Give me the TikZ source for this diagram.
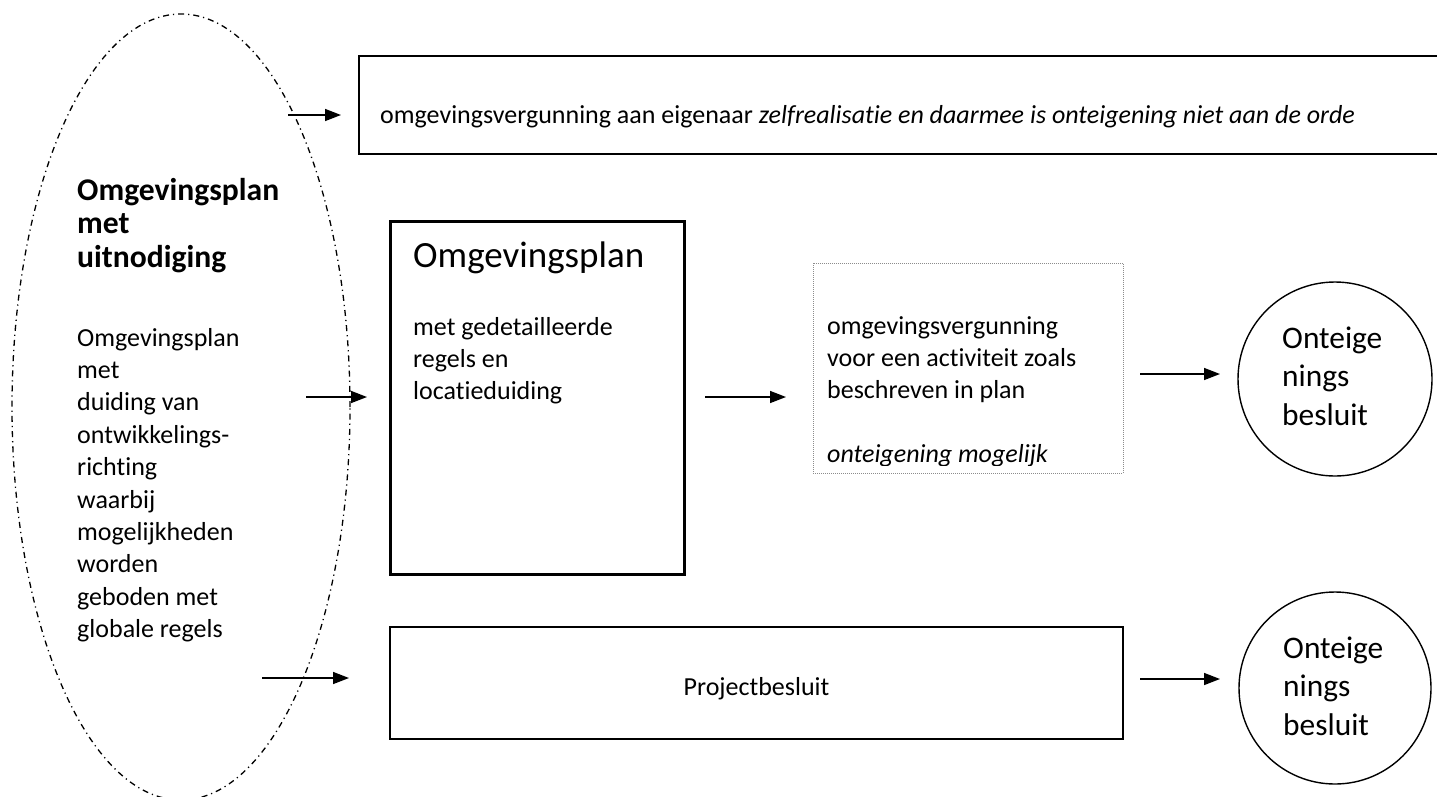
\documentclass[tikz,border=0pt]{standalone}
\usepackage{fontspec}
\setmainfont{Carlito}[Ligatures={NoCommon}]
\usetikzlibrary{shapes.geometric,arrows.meta}
\begin{document}
\begin{tikzpicture}[x=1pt,y=-1pt,
  box/.style={draw,rectangle,line width=1.4pt,inner sep=0pt},
  thickbox/.style={draw,rectangle,line width=3pt,inner sep=0pt},
  dotbox/.style={draw=black!45,rectangle,line width=0.8pt,dash pattern=on 1pt off 1pt,inner sep=0pt},
  oval/.style={draw,ellipse,line width=1.3pt,dash pattern=on 6pt off 4pt on 1.2pt off 4pt,inner sep=0pt},
  round/.style={draw,circle,line width=1.4pt,inner sep=0pt},
  arr/.style={line width=1.5pt,-{Triangle[length=16pt,width=12pt]}},
  txt/.style={anchor=base west,inner sep=0pt,font=\fontsize{26}{32.2}\selectfont},
  bigtxt/.style={anchor=base west,inner sep=0pt,font=\fontsize{31.4}{38.5}\selectfont},
]
\useasboundingbox (0,0) rectangle (1437,796);
\clip (0,0) rectangle (1437,796);

% shapes
\node[oval,minimum width=338pt,minimum height=786pt] (ov) at (181,407) {};
\node[box,minimum width=1086pt,minimum height=98pt] (top) at (902,105) {};
\node[thickbox,minimum width=294pt,minimum height=353pt] (mid) at (537,397.5) {};
\node[dotbox,minimum width=310pt,minimum height=210pt] (dot) at (968,368) {};
\node[box,minimum width=733pt,minimum height=112pt] (proj) at (756.5,683) {};
\node[round,minimum size=194pt] (c1) at (1335,379) {};
\node[round,minimum size=192pt] (c2) at (1335,688) {};

% texts
\node[txt] (ttop) at (380,123) {omgevingsvergunning aan eigenaar \textit{zelfrealisatie en daarmee is onteigening niet aan de orde}};
\node[anchor=base west,inner sep=0pt,font=\fontsize{31.6}{33.5}\selectfont\bfseries] (tov1) at (77,200)
  {\begin{tabular}[t]{@{}l@{}}Omgevingsplan\\ met\\ uitnodiging\end{tabular}};
\node[anchor=base west,inner sep=0pt,font=\fontsize{26}{32.4}\selectfont] (tov2) at (77,346)
  {\begin{tabular}[t]{@{}l@{}}Omgevingsplan\\ met\\ duiding van\\ ontwikkelings-\\ richting\\ waarbij\\ mogelijkheden\\ worden\\ geboden met\\ globale regels\end{tabular}};
\node[anchor=base west,inner sep=0pt,font=\fontsize{37}{45}\selectfont] (tmid1) at (413,267) {Omgevingsplan};
\node[txt] (tmid2) at (413,335)
  {\begin{tabular}[t]{@{}l@{}}met gedetailleerde\\ regels en\\ locatieduiding\end{tabular}};
\begin{scope}
  \clip (813,263) rectangle (1123,465.5);
  \node[txt] (tdot) at (827,334)
    {\begin{tabular}[t]{@{}l@{}}omgevingsvergunning\\ voor een activiteit zoals\\ beschreven in plan\\[0pt] \\ \textit{onteigening mogelijk}\end{tabular}};
\end{scope}
\node[anchor=base,inner sep=0pt,font=\fontsize{26}{32}\selectfont] (tproj) at (756.5,695) {Projectbesluit};
\node[bigtxt] (tc1) at (1282,348)
  {\begin{tabular}[t]{@{}l@{}}Onteige\\ nings\\ besluit\end{tabular}};
\node[bigtxt] (tc2) at (1283,658)
  {\begin{tabular}[t]{@{}l@{}}Onteige\\ nings\\ besluit\end{tabular}};

% arrows
\coordinate (a1s) at (288,115);  \coordinate (a1e) at (341,115);
\coordinate (a2s) at (306,397);  \coordinate (a2e) at (367,397);
\coordinate (a3s) at (705,397);  \coordinate (a3e) at (786,397);
\coordinate (a4s) at (1140,374); \coordinate (a4e) at (1220,374);
\coordinate (a5s) at (262,678);  \coordinate (a5e) at (349,678);
\coordinate (a6s) at (1140,679); \coordinate (a6e) at (1220,679);
\draw[arr] (a1s) -- (a1e);
\draw[arr] (a2s) -- (a2e);
\draw[arr] (a3s) -- (a3e);
\draw[arr] (a4s) -- (a4e);
\draw[arr] (a5s) -- (a5e);
\draw[arr] (a6s) -- (a6e);
\end{tikzpicture}
\end{document}
